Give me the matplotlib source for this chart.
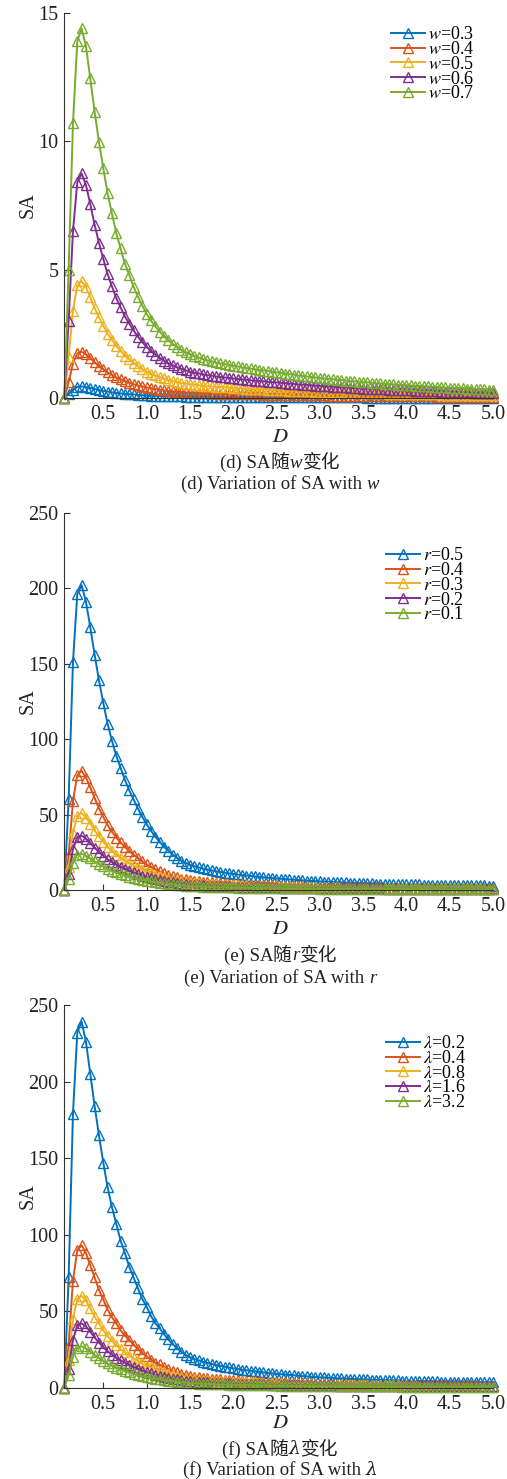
import numpy as np
import matplotlib
matplotlib.use('Agg')
import matplotlib.pyplot as plt
from matplotlib.offsetbox import TextArea, HPacker, AnchoredOffsetbox

plt.rcParams['font.family'] = ['Liberation Serif', 'Noto Sans CJK SC']
plt.rcParams['mathtext.fontset'] = 'stix'

# sampling grid of D (0.05 ... 5.0)
D = np.round(np.arange(1, 101) * 0.05, 2)

# --- (d) SA vs D for several w ---
w_labels = ['0.3', '0.4', '0.5', '0.6', '0.7']
sa_w03 = [0, 0.16, 0.33, 0.43, 0.45, 0.43, 0.39, 0.35, 0.31, 0.28,
          0.25, 0.22, 0.2, 0.18, 0.16, 0.15, 0.14, 0.12, 0.11, 0.1,
          0.094, 0.087, 0.081, 0.075, 0.07, 0.066, 0.062, 0.059, 0.056, 0.053,
          0.051, 0.049, 0.047, 0.045, 0.044, 0.043, 0.042, 0.041, 0.04, 0.039,
          0.038, 0.037, 0.036, 0.035, 0.034, 0.034, 0.033, 0.032, 0.031, 0.031,
          0.03, 0.029, 0.029, 0.028, 0.027, 0.027, 0.026, 0.026, 0.025, 0.024,
          0.024, 0.023, 0.023, 0.022, 0.022, 0.021, 0.021, 0.02, 0.02, 0.02,
          0.019, 0.019, 0.018, 0.018, 0.018, 0.017, 0.017, 0.016, 0.016, 0.016,
          0.015, 0.015, 0.015, 0.015, 0.014, 0.014, 0.014, 0.013, 0.013, 0.013,
          0.013, 0.012, 0.012, 0.012, 0.012, 0.011, 0.011, 0.011, 0.011, 0.01]
sa_w04 = [0, 0.62, 1.34, 1.74, 1.8, 1.71, 1.56, 1.39, 1.25, 1.12,
          1.0, 0.9, 0.8, 0.73, 0.66, 0.6, 0.54, 0.49, 0.45, 0.41,
          0.38, 0.35, 0.32, 0.3, 0.28, 0.26, 0.25, 0.24, 0.22, 0.21,
          0.21, 0.2, 0.19, 0.18, 0.18, 0.17, 0.17, 0.16, 0.16, 0.16,
          0.15, 0.15, 0.15, 0.14, 0.14, 0.14, 0.13, 0.13, 0.13, 0.13,
          0.12, 0.12, 0.12, 0.11, 0.11, 0.11, 0.11, 0.1, 0.1, 0.1,
          0.1, 0.09, 0.09, 0.09, 0.09, 0.09, 0.08, 0.08, 0.08, 0.08,
          0.08, 0.07, 0.07, 0.07, 0.07, 0.07, 0.07, 0.07, 0.06, 0.06,
          0.06, 0.06, 0.06, 0.06, 0.06, 0.06, 0.05, 0.05, 0.05, 0.05,
          0.05, 0.05, 0.05, 0.05, 0.05, 0.05, 0.04, 0.04, 0.04, 0.04]
sa_w05 = [0, 1.6, 3.4, 4.4, 4.55, 4.32, 3.92, 3.51, 3.14, 2.82,
          2.51, 2.26, 2.02, 1.84, 1.65, 1.51, 1.37, 1.24, 1.13, 1.03,
          0.95, 0.88, 0.82, 0.76, 0.71, 0.66, 0.63, 0.59, 0.56, 0.54,
          0.52, 0.5, 0.48, 0.46, 0.45, 0.44, 0.43, 0.42, 0.41, 0.4,
          0.39, 0.38, 0.37, 0.36, 0.35, 0.35, 0.34, 0.33, 0.32, 0.32,
          0.31, 0.3, 0.29, 0.29, 0.28, 0.27, 0.26, 0.26, 0.25, 0.25,
          0.24, 0.24, 0.23, 0.22, 0.22, 0.21, 0.21, 0.2, 0.2, 0.2,
          0.19, 0.19, 0.18, 0.18, 0.18, 0.17, 0.17, 0.16, 0.16, 0.16,
          0.15, 0.15, 0.15, 0.14, 0.14, 0.14, 0.14, 0.13, 0.13, 0.13,
          0.12, 0.12, 0.12, 0.12, 0.11, 0.11, 0.11, 0.11, 0.1, 0.1]
sa_w06 = [0, 3.0, 6.5, 8.4, 8.75, 8.3, 7.55, 6.75, 6.05, 5.42,
          4.83, 4.35, 3.89, 3.53, 3.17, 2.9, 2.63, 2.39, 2.18, 1.99,
          1.83, 1.69, 1.57, 1.46, 1.36, 1.28, 1.2, 1.14, 1.08, 1.03,
          0.99, 0.96, 0.92, 0.89, 0.87, 0.84, 0.82, 0.8, 0.78, 0.76,
          0.74, 0.73, 0.71, 0.69, 0.68, 0.66, 0.65, 0.63, 0.62, 0.61,
          0.59, 0.58, 0.56, 0.55, 0.53, 0.52, 0.51, 0.5, 0.48, 0.47,
          0.46, 0.45, 0.44, 0.43, 0.42, 0.41, 0.4, 0.39, 0.38, 0.37,
          0.37, 0.36, 0.35, 0.34, 0.34, 0.33, 0.32, 0.31, 0.31, 0.3,
          0.3, 0.29, 0.28, 0.28, 0.27, 0.27, 0.26, 0.25, 0.25, 0.24,
          0.24, 0.23, 0.23, 0.22, 0.22, 0.21, 0.21, 0.21, 0.2, 0.2]
sa_w07 = [0, 5.0, 10.7, 13.9, 14.4, 13.7, 12.45, 11.15, 9.98, 8.95,
          7.97, 7.19, 6.42, 5.83, 5.24, 4.79, 4.34, 3.95, 3.6, 3.28,
          3.02, 2.79, 2.59, 2.41, 2.25, 2.11, 1.99, 1.88, 1.79, 1.71,
          1.64, 1.58, 1.52, 1.47, 1.43, 1.39, 1.35, 1.32, 1.29, 1.26,
          1.23, 1.2, 1.17, 1.15, 1.12, 1.1, 1.07, 1.05, 1.03, 1.0,
          0.98, 0.95, 0.93, 0.91, 0.88, 0.86, 0.84, 0.82, 0.8, 0.78,
          0.76, 0.75, 0.73, 0.71, 0.7, 0.68, 0.66, 0.65, 0.63, 0.62,
          0.61, 0.59, 0.58, 0.57, 0.56, 0.54, 0.53, 0.52, 0.51, 0.5,
          0.49, 0.48, 0.47, 0.46, 0.45, 0.44, 0.43, 0.42, 0.41, 0.4,
          0.39, 0.38, 0.38, 0.37, 0.36, 0.35, 0.34, 0.34, 0.33, 0.32]

# --- (e) SA vs D for several r ---
r_labels = ['0.5', '0.4', '0.3', '0.2', '0.1']
sa_r05 = [0, 60, 151, 196, 202, 191, 174, 156, 139, 124,
          110, 99, 89, 81, 73, 66, 60, 54, 48.5, 43.7,
          39.3, 35.3, 32, 28.7, 26, 23.5, 21.3, 19.5, 18, 16.8,
          15.8, 15.0, 14.3, 13.6, 13.0, 12.5, 12.0, 11.5, 11.1, 10.7,
          10.3, 9.9, 9.6, 9.3, 9.0, 8.7, 8.4, 8.1, 7.9, 7.6,
          7.4, 7.2, 7.0, 6.8, 6.6, 6.4, 6.2, 6.0, 5.9, 5.7,
          5.6, 5.5, 5.3, 5.2, 5.1, 5.0, 4.9, 4.8, 4.7, 4.6,
          4.5, 4.4, 4.3, 4.3, 4.2, 4.1, 4.0, 4.0, 3.9, 3.8,
          3.8, 3.7, 3.7, 3.6, 3.6, 3.5, 3.5, 3.4, 3.4, 3.3,
          3.3, 3.2, 3.2, 3.1, 3.1, 3.1, 3.0, 3.0, 2.9, 2.9]
sa_r04 = [0, 23, 59, 76, 79, 74.5, 68, 61, 54, 48.5,
          43, 38.6, 34.7, 31.6, 28.5, 25.7, 23.4, 21.1, 18.9, 17.0,
          15.3, 13.8, 12.5, 11.2, 10.1, 9.2, 8.3, 7.6, 7.0, 6.6,
          6.2, 5.9, 5.6, 5.3, 5.1, 4.9, 4.7, 4.5, 4.3, 4.2,
          4.0, 3.9, 3.7, 3.6, 3.5, 3.4, 3.3, 3.2, 3.1, 3.0,
          2.9, 2.8, 2.7, 2.7, 2.6, 2.5, 2.4, 2.3, 2.3, 2.2,
          2.2, 2.1, 2.1, 2.0, 2.0, 1.95, 1.9, 1.9, 1.8, 1.8,
          1.75, 1.7, 1.7, 1.7, 1.6, 1.6, 1.6, 1.55, 1.5, 1.5,
          1.5, 1.45, 1.45, 1.4, 1.4, 1.35, 1.35, 1.3, 1.3, 1.3,
          1.3, 1.25, 1.25, 1.2, 1.2, 1.2, 1.2, 1.15, 1.15, 1.1]
sa_r03 = [0, 15, 38, 49, 51, 48, 44, 39.5, 35.5, 32,
          28.5, 25.8, 23.4, 21.5, 19.5, 17.8, 16.3, 14.8, 13.4, 12.2,
          11.1, 10.1, 9.2, 8.3, 7.6, 6.9, 6.3, 5.8, 5.4, 5.0,
          4.7, 4.5, 4.3, 4.1, 3.9, 3.8, 3.6, 3.5, 3.4, 3.3,
          3.2, 3.1, 3.0, 2.9, 2.8, 2.7, 2.6, 2.5, 2.5, 2.4,
          2.3, 2.3, 2.2, 2.1, 2.1, 2.0, 2.0, 1.9, 1.9, 1.8,
          1.8, 1.75, 1.7, 1.7, 1.65, 1.6, 1.6, 1.55, 1.5, 1.5,
          1.45, 1.45, 1.4, 1.4, 1.35, 1.35, 1.3, 1.3, 1.3, 1.25,
          1.25, 1.2, 1.2, 1.2, 1.15, 1.15, 1.15, 1.1, 1.1, 1.1,
          1.05, 1.05, 1.05, 1.0, 1.0, 1.0, 1.0, 0.95, 0.95, 0.95]
sa_r02 = [0, 10.5, 27, 35, 36, 34, 31, 28, 25.2, 22.7,
          20.4, 18.5, 16.8, 15.4, 14.0, 12.8, 11.7, 10.6, 9.6, 8.8,
          8.0, 7.3, 6.6, 6.0, 5.5, 5.0, 4.6, 4.2, 3.9, 3.6,
          3.4, 3.2, 3.05, 2.9, 2.8, 2.7, 2.6, 2.5, 2.4, 2.3,
          2.2, 2.15, 2.1, 2.0, 1.95, 1.9, 1.85, 1.8, 1.75, 1.7,
          1.65, 1.6, 1.55, 1.5, 1.5, 1.45, 1.4, 1.4, 1.35, 1.3,
          1.3, 1.25, 1.2, 1.2, 1.2, 1.15, 1.15, 1.1, 1.1, 1.05,
          1.05, 1.0, 1.0, 1.0, 0.97, 0.95, 0.93, 0.92, 0.9, 0.88,
          0.87, 0.85, 0.84, 0.83, 0.82, 0.8, 0.79, 0.78, 0.77, 0.76,
          0.75, 0.74, 0.73, 0.72, 0.71, 0.7, 0.69, 0.69, 0.68, 0.67]
sa_r01 = [0, 7, 18, 23.2, 24, 22.8, 21, 19, 17.2, 15.6,
          14.1, 12.8, 11.6, 10.6, 9.7, 8.9, 8.1, 7.4, 6.8, 6.2,
          5.7, 5.2, 4.8, 4.4, 4.0, 3.7, 3.4, 3.15, 2.9, 2.7,
          2.55, 2.4, 2.3, 2.2, 2.1, 2.0, 1.9, 1.85, 1.8, 1.7,
          1.65, 1.6, 1.55, 1.5, 1.45, 1.4, 1.38, 1.35, 1.3, 1.27,
          1.24, 1.2, 1.17, 1.14, 1.11, 1.08, 1.05, 1.03, 1.0, 0.98,
          0.96, 0.94, 0.92, 0.9, 0.88, 0.86, 0.84, 0.83, 0.81, 0.8,
          0.78, 0.77, 0.75, 0.74, 0.73, 0.72, 0.7, 0.69, 0.68, 0.67,
          0.66, 0.65, 0.64, 0.63, 0.62, 0.61, 0.6, 0.59, 0.58, 0.57,
          0.56, 0.56, 0.55, 0.54, 0.53, 0.53, 0.52, 0.51, 0.51, 0.5]

# --- (f) SA vs D for several lambda ---
lam_labels = ['0.2', '0.4', '0.8', '1.6', '3.2']
sa_l02 = [0, 72, 179, 232, 239, 226, 205, 184, 165, 147,
          131, 118, 107, 96, 88, 79, 72, 65, 58, 53,
          47, 42, 39, 35, 31.5, 28.5, 26, 23.5, 21.5, 20,
          18.8, 17.9, 17, 16.2, 15.5, 14.9, 14.3, 13.7, 13.2, 12.7,
          12.3, 11.8, 11.4, 11.1, 10.7, 10.4, 10.0, 9.6, 9.4, 9.0,
          8.8, 8.6, 8.3, 8.1, 7.9, 7.6, 7.4, 7.1, 7.0, 6.8,
          6.7, 6.5, 6.3, 6.2, 6.1, 6.0, 5.8, 5.7, 5.6, 5.5,
          5.4, 5.2, 5.1, 5.1, 5.0, 4.9, 4.8, 4.8, 4.6, 4.5,
          4.5, 4.4, 4.4, 4.3, 4.3, 4.2, 4.2, 4.0, 4.0, 3.9,
          3.9, 3.8, 3.8, 3.7, 3.7, 3.7, 3.6, 3.6, 3.5, 3.5]
sa_l04 = [0, 28, 70, 90, 93, 88, 80, 72, 64, 57.5,
          51, 46, 42, 37.5, 34, 31, 28, 25.3, 22.6, 20.7,
          18.3, 16.4, 15.2, 13.7, 12.3, 11.1, 10.1, 9.2, 8.4, 7.8,
          7.3, 7.0, 6.6, 6.3, 6.0, 5.8, 5.6, 5.3, 5.1, 5.0,
          4.8, 4.6, 4.4, 4.3, 4.2, 4.1, 3.9, 3.7, 3.7, 3.5,
          3.4, 3.4, 3.2, 3.2, 3.1, 3.0, 2.9, 2.8, 2.7, 2.7,
          2.6, 2.5, 2.5, 2.4, 2.4, 2.3, 2.3, 2.2, 2.2, 2.1,
          2.1, 2.0, 2.0, 2.0, 1.95, 1.9, 1.9, 1.85, 1.8, 1.75,
          1.75, 1.7, 1.7, 1.7, 1.65, 1.65, 1.6, 1.6, 1.55, 1.55,
          1.5, 1.5, 1.5, 1.45, 1.45, 1.45, 1.4, 1.4, 1.4, 1.35]
sa_l08 = [0, 18, 45, 58, 60, 57, 52, 46.5, 42, 37.5,
          33.5, 30.5, 27.7, 25.3, 23, 21, 19.2, 17.5, 15.9, 14.5,
          13.2, 12.0, 11.0, 10.0, 9.1, 8.3, 7.6, 7.0, 6.5, 6.0,
          5.6, 5.3, 5.1, 4.9, 4.7, 4.5, 4.3, 4.2, 4.0, 3.9,
          3.8, 3.7, 3.6, 3.5, 3.4, 3.3, 3.2, 3.1, 3.0, 2.9,
          2.8, 2.7, 2.65, 2.6, 2.5, 2.45, 2.4, 2.3, 2.25, 2.2,
          2.15, 2.1, 2.05, 2.0, 1.95, 1.9, 1.9, 1.85, 1.8, 1.8,
          1.75, 1.7, 1.7, 1.65, 1.6, 1.6, 1.55, 1.55, 1.5, 1.5,
          1.45, 1.45, 1.4, 1.4, 1.4, 1.35, 1.35, 1.3, 1.3, 1.3,
          1.25, 1.25, 1.25, 1.2, 1.2, 1.2, 1.15, 1.15, 1.15, 1.1]
sa_l16 = [0, 12.5, 31, 41, 42, 40, 36.5, 32.8, 29.5, 26.5,
          23.8, 21.6, 19.6, 17.9, 16.3, 14.9, 13.6, 12.3, 11.2, 10.2,
          9.3, 8.5, 7.7, 7.0, 6.4, 5.8, 5.4, 4.9, 4.5, 4.2,
          4.0, 3.75, 3.55, 3.4, 3.25, 3.15, 3.0, 2.9, 2.8, 2.7,
          2.6, 2.5, 2.45, 2.35, 2.3, 2.2, 2.15, 2.1, 2.05, 2.0,
          1.95, 1.9, 1.85, 1.8, 1.75, 1.7, 1.65, 1.6, 1.6, 1.55,
          1.5, 1.5, 1.45, 1.4, 1.4, 1.35, 1.35, 1.3, 1.3, 1.25,
          1.25, 1.2, 1.2, 1.15, 1.15, 1.1, 1.1, 1.08, 1.06, 1.04,
          1.02, 1.0, 0.99, 0.97, 0.96, 0.94, 0.93, 0.92, 0.9, 0.89,
          0.88, 0.87, 0.86, 0.85, 0.84, 0.83, 0.82, 0.81, 0.8, 0.79]
sa_l32 = [0, 8, 20, 26.2, 27, 25.7, 23.6, 21.4, 19.4, 17.6,
          15.9, 14.4, 13.1, 11.9, 10.9, 10.0, 9.1, 8.3, 7.6, 7.0,
          6.4, 5.9, 5.4, 5.0, 4.5, 4.2, 3.8, 3.5, 3.3, 3.05,
          2.9, 2.7, 2.6, 2.5, 2.4, 2.3, 2.2, 2.1, 2.0, 1.95,
          1.9, 1.85, 1.8, 1.7, 1.65, 1.6, 1.58, 1.55, 1.5, 1.45,
          1.42, 1.38, 1.34, 1.3, 1.27, 1.24, 1.2, 1.18, 1.15, 1.12,
          1.1, 1.08, 1.05, 1.03, 1.01, 0.99, 0.97, 0.95, 0.93, 0.92,
          0.9, 0.88, 0.87, 0.85, 0.84, 0.82, 0.81, 0.8, 0.78, 0.77,
          0.76, 0.75, 0.74, 0.73, 0.72, 0.7, 0.69, 0.68, 0.67, 0.66,
          0.65, 0.64, 0.63, 0.63, 0.62, 0.61, 0.6, 0.59, 0.59, 0.58]

colors = ['#0072BD', '#D95319', '#EDB120', '#7E2F8E', '#77AC30']
W, H = 507, 1479

fig = plt.figure(figsize=(W / 100, H / 100), dpi=100)


def fx(px):
    return px / W


def fy(py):
    return 1 - py / H


def caption(x, y, parts, size=13.5):
    # mixed-font line: (text, family, style)
    boxes = [TextArea(t, textprops=dict(fontsize=size, family=fam, style=st,
                                        color='#222222'))
             for t, fam, st in parts]
    pack = HPacker(children=boxes, align='baseline', pad=0, sep=0)
    ab = AnchoredOffsetbox(loc='center', child=pack, frameon=False, pad=0,
                           borderpad=0, bbox_to_anchor=(x, y),
                           bbox_transform=fig.transFigure)
    fig.add_artist(ab)


serif = ['Liberation Serif']
cjk = ['Noto Sans CJK SC']

panels = [
    dict(top=13, bottom=398, ymax=15, yticks=[0, 5, 10, 15],
         series=[sa_w03, sa_w04, sa_w05, sa_w06, sa_w07],
         labels=[f'$w$={v}' for v in w_labels], leg=(391, 26),
         var='w', tag='d', ycap=(437, 462, 484)),
    dict(top=512.7, bottom=890, ymax=250, yticks=[0, 50, 100, 150, 200, 250],
         series=[sa_r05, sa_r04, sa_r03, sa_r02, sa_r01],
         labels=[f'$r$={v}' for v in r_labels], leg=(386, 547),
         var='r', tag='e', ycap=(929, 955, 978)),
    dict(top=1005, bottom=1387.7, ymax=250, yticks=[0, 50, 100, 150, 200, 250],
         series=[sa_l02, sa_l04, sa_l08, sa_l16, sa_l32],
         labels=[f'$\\lambda$={v}' for v in lam_labels], leg=(386, 1035),
         var='λ', tag='f', ycap=(1423, 1449, 1470)),
]

x0, x1 = 64.3, 493
for p in panels:
    ax = fig.add_axes([fx(x0), fy(p['bottom']), fx(x1) - fx(x0),
                       (p['bottom'] - p['top']) / H])
    for ys, c, lab in zip(p['series'], colors, p['labels']):
        ax.plot(D, ys, '-^', color=c, lw=1.4, ms=7.5, mfc='none', mew=1.0,
                label=lab, clip_on=False)
    ax.set_xlim(0.05, 5.0)
    ax.set_ylim(0, p['ymax'])
    ax.set_xticks(np.arange(0.5, 5.01, 0.5))
    ax.set_xticklabels([f'{t:.1f}' for t in np.arange(0.5, 5.01, 0.5)])
    ax.set_yticks(p['yticks'])
    for s in ['top', 'right']:
        ax.spines[s].set_visible(False)
    for s in ['left', 'bottom']:
        ax.spines[s].set_color('#333333')
        ax.spines[s].set_linewidth(0.8)
    ax.tick_params(direction='in', length=4, width=0.8, colors='#333333',
                   labelcolor='#222222', labelsize=14.5)
    ax.tick_params(axis='x', pad=5)
    ax.tick_params(axis='y', pad=4)

    fig.text(fx(28), fy((p['top'] + p['bottom']) / 2), 'SA', rotation=90,
             ha='center', va='center', fontsize=14.5, color='#222222')

    ax.legend(loc='upper left', bbox_to_anchor=(fx(p['leg'][0]), fy(p['leg'][1])),
              bbox_transform=fig.transFigure, frameon=False, fontsize=13,
              borderpad=0, borderaxespad=0, handlelength=1.9,
              handletextpad=0.15, labelspacing=-0.12)

    xc = fx(280)
    fig.text(xc, fy(p['ycap'][0]), '$D$', ha='center', va='center',
             fontsize=15, color='#222222')
    tag = p['tag']
    if p['var'] == 'λ':
        var_parts = [('λ', ['DejaVu Serif'], 'italic')]
    else:
        var_parts = [(p['var'], serif, 'italic')]
    caption(xc, fy(p['ycap'][1]),
            [(f'({tag}) SA', serif, 'normal'), ('随', cjk, 'normal')]
            + var_parts + [('变化', cjk, 'normal')])
    caption(xc, fy(p['ycap'][2]),
            [(f'({tag}) Variation of SA with ', serif, 'normal')] + var_parts)

fig.savefig('out.png', dpi=100)
